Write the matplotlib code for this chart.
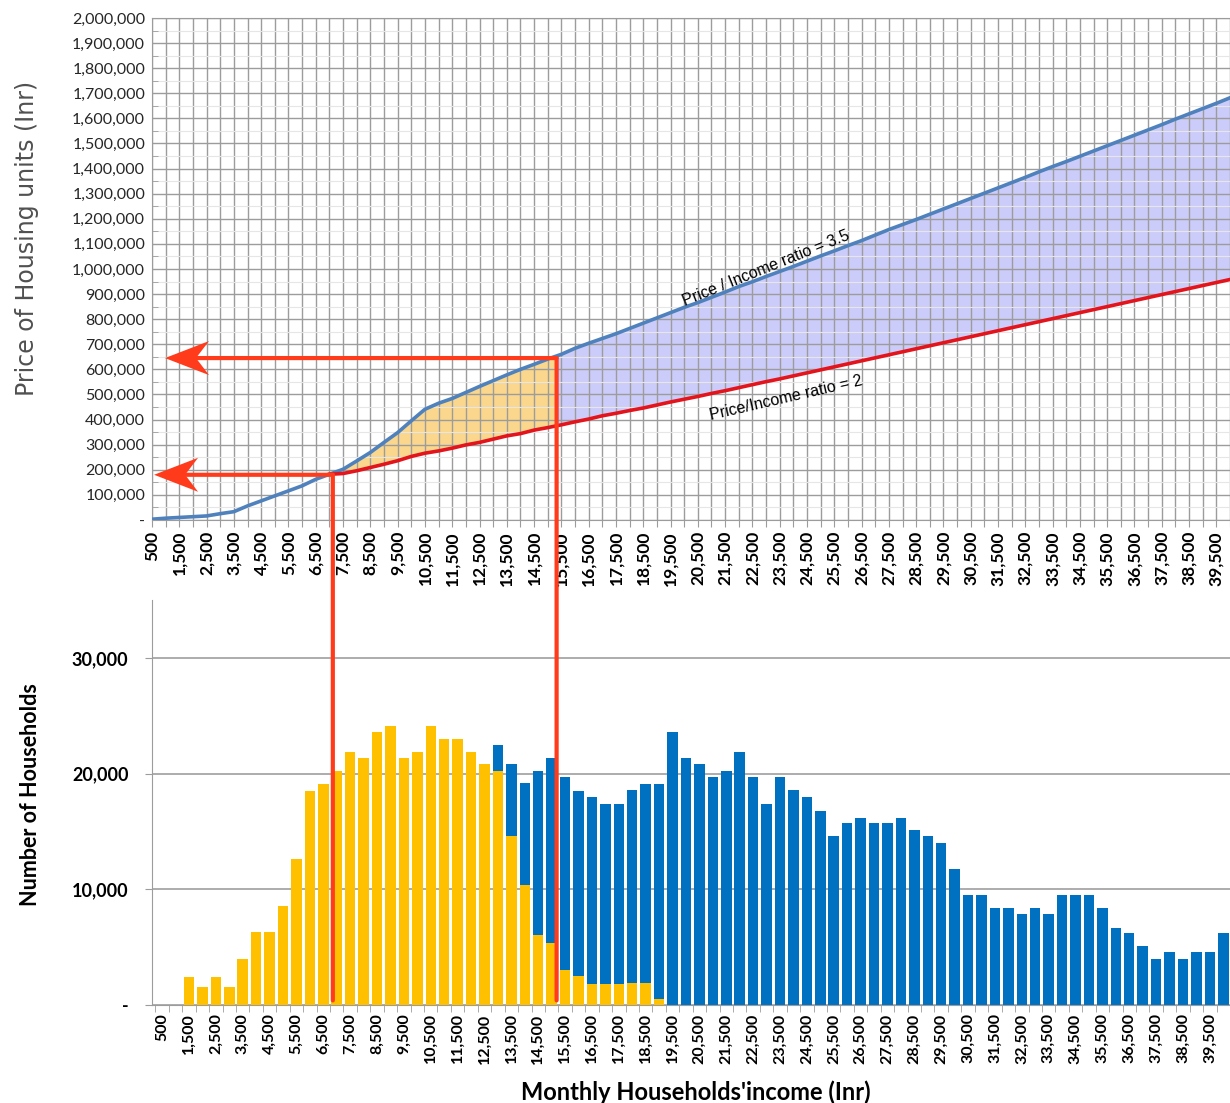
import numpy as np
import matplotlib
matplotlib.use("Agg")
import matplotlib.pyplot as plt
import matplotlib.ticker as mticker
import matplotlib.transforms as mtransforms
from matplotlib.patches import ConnectionPatch, Rectangle, Polygon

# monthly household income categories (Inr)
income = list(range(500, 40001, 500))

# price of housing at price/income ratio 3.5 (blue line)
price_35 = [3000, 7000, 10000, 13000, 16000, 25000, 33000, 56000, 76000, 96000,
            116000, 136000, 162000, 182000, 202000, 235000, 269000, 309000, 348000, 395000,
            441000, 465000, 484000, 508000, 532000, 555000, 578000, 600000, 620000, 641000,
            660000, 684000, 704000, 723000, 742000, 763000, 784000, 805000, 826000, 847000,
            866000, 887000, 908000, 930000, 949000, 970000, 990000, 1010000, 1031000, 1052000,
            1072000, 1093000, 1113000, 1135000, 1157000, 1177000, 1197000, 1218000, 1239000, 1260000,
            1281000, 1302000, 1323000, 1344000, 1365000, 1387000, 1408000, 1428000, 1449000, 1470000,
            1491000, 1512000, 1533000, 1554000, 1575000, 1597000, 1618000, 1639000, 1660000, 1682000]

# price of housing at price/income ratio 2 (red line), starts at 7,000
price_2 = [np.nan] * 13 + [
    182000, 185000, 196000, 209000, 222000, 236000, 253000, 266000, 275000, 286000,
    299000, 309000, 322000, 335000, 344000, 358000, 368000, 379000, 391000, 402000,
    415000, 425000, 436000, 446000, 458000, 470000, 481000, 492000, 504000, 515000,
    527000, 539000, 551000, 562000, 574000, 586000, 598000, 610000, 622000, 634000,
    646000, 658000, 670000, 682000, 694000, 706000, 718000, 730000, 742000, 754000,
    766000, 778000, 790000, 802000, 814000, 826000, 838000, 850000, 862000, 874000,
    886000, 898000, 910000, 922000, 934000, 946000, 958000]

# number of households per income class
households = [0, 0, 2400, 1600, 2400, 1600, 4000, 6300, 6300, 8600,
              12600, 18500, 19100, 20200, 21900, 21400, 23600, 24100, 21400, 21900,
              24100, 23000, 23000, 21900, 20800, 22500, 20800, 19200, 20200, 21400,
              19700, 18500, 18000, 17400, 17400, 18600, 19100, 19100, 23600, 21400,
              20800, 19700, 20200, 21900, 19700, 17400, 19700, 18600, 18000, 16800,
              14600, 15700, 16200, 15700, 15700, 16200, 15100, 14600, 14000, 11800,
              9500, 9500, 8400, 8400, 7900, 8400, 7900, 9500, 9500, 9500,
              8400, 6700, 6200, 5100, 4000, 4600, 4000, 4600, 4600, 6200]

# households that can afford (yellow part)
afford = [0, 0, 2400, 1600, 2400, 1600, 4000, 6300, 6300, 8600,
          12600, 18500, 19100, 20200, 21900, 21400, 23600, 24100, 21400, 21900,
          24100, 23000, 23000, 21900, 20800, 20200, 14600, 10400, 6100, 5400,
          3000, 2500, 1800, 1800, 1800, 1900, 1900, 500] + [0] * 42

# the two thresholds marked with red arrows (category position, price level, arrow tip)
mark_pos = [13.25, 29.65]
mark_level = [180000, 645000]
mark_tip = [0.15, 0.95]

x = np.arange(len(income))
p35 = np.array(price_35, dtype=float)
p2 = np.array(price_2, dtype=float)

fig = plt.figure(figsize=(12.3, 11.03), dpi=100)
ax1 = fig.add_axes([0.1236, 0.5286, 0.8764, 0.4551])
ax2 = fig.add_axes([0.1236, 0.0888, 0.8764, 0.367])

grid_c = "#9C9C9C"
arrow_c = "#FF3B1C"

# ---- top chart: price lines
ax1.set_xlim(0, len(income) - 1)
ax1.set_ylim(0, 2000000)
ax1.set_axisbelow(True)

m = x >= 13
ax1.fill_between(x[m], p2[m], p35[m], color="#CCCCFA", lw=0, zorder=0.3)
org = ax1.fill_between(x[m], p2[m], p35[m], color="#FAD78C", lw=0, zorder=0.35)
org.set_clip_path(Rectangle((0, 0), mark_pos[1], 2000000, transform=ax1.transData))

ax1.plot(x, p35, color="#4F81BD", lw=2.6, zorder=3)
ax1.plot(x, p2, color="#E3141B", lw=2.6, zorder=3)

ax1.set_xticks(x)
ax1.set_xticklabels([f"{v:,}" if i % 2 == 0 else "" for i, v in enumerate(income)],
                    rotation=90, fontsize=12.5, fontweight="bold", family="Lato")
ax1.set_yticks(np.arange(0, 2000001, 100000))
ax1.yaxis.set_major_formatter(mticker.FuncFormatter(lambda v, p: "-" if v == 0 else f"{int(v):,}"))
ax1.yaxis.set_minor_locator(mticker.MultipleLocator(50000))
for lab in ax1.get_yticklabels():
    lab.set_family("Lato")
    lab.set_fontsize(11.5)
    lab.set_color("#262626")
ax1.tick_params(axis="x", length=5, color=grid_c, pad=3)
ax1.tick_params(axis="y", which="major", length=0, pad=5)
ax1.tick_params(axis="y", which="minor", length=4, direction="in", color=grid_c)
ax1.grid(axis="x", color=grid_c, lw=1)
ax1.grid(axis="y", which="major", color=grid_c, lw=1)
ax1.grid(axis="y", which="minor", color="#E6E6E6", lw=0.8)
for s in ax1.spines.values():
    s.set_color(grid_c)
ax1.spines["right"].set_visible(False)

ax1.set_ylabel("Price of Housing units (Inr)", fontsize=17, color="#505050")
ax1.yaxis.set_label_coords(-0.105, 0.56)

ax1.text(45, 1004000, "Price / Income ratio = 3.5", rotation=22, ha="center", va="center",
         fontsize=11.5, family="Liberation Sans", rotation_mode="anchor", zorder=4)
ax1.text(46.5, 486000, "Price/Income ratio = 2", rotation=13, ha="center", va="center",
         fontsize=11.5, family="Liberation Sans", rotation_mode="anchor", zorder=4)

# ---- bottom chart: households
ax2.bar(x, households, width=0.78, color="#0070C0", zorder=2)
ax2.bar(x, afford, width=0.78, color="#FFC000", zorder=3)
ax2.set_xlim(-0.75, 79.45)
ax2.set_ylim(0, 35000)
ax2.set_yticks([0, 10000, 20000, 30000])
ax2.set_yticklabels(["-", "10,000", "20,000", "30,000"], fontsize=13, fontweight="bold", family="Lato")
ax2.set_xticks(x[::2])
ax2.set_xticklabels([f"{v:,}" for v in income[::2]], rotation=90, fontsize=11.5,
                    fontweight="bold", family="Lato")
ax2.set_xticks(np.append(x - 0.5, x[-1] + 0.5), minor=True)
ax2.tick_params(axis="x", which="major", length=0, pad=6)
ax2.tick_params(axis="x", which="minor", length=5, color=grid_c)
ax2.tick_params(axis="y", length=5, color=grid_c, pad=12)
ax2.grid(axis="y", color="#A6A6A6", lw=1.3, zorder=1)
ax2.set_axisbelow(True)
for s in ["top", "right"]:
    ax2.spines[s].set_visible(False)
for s in ["left", "bottom"]:
    ax2.spines[s].set_color(grid_c)

ax2.set_ylabel("Number of Households", fontsize=15.5, fontweight="bold", family="Lato")
ax2.yaxis.set_label_coords(-0.103, 0.52)
ax2.set_xlabel("Monthly Households'income (Inr)", fontsize=17, fontweight="bold", family="Lato")
ax2.xaxis.set_label_coords(0.504, -0.185)

# ---- red arrows and connecting lines
both = mtransforms.blended_transform_factory(ax1.transData, ax2.transData)
head = np.array([[0, 0], [0.44, 0.17], [0.31, 0], [0.44, -0.17]])  # stealth head, inches
for px, lev, tip in zip(mark_pos, mark_level, mark_tip):
    ax1.annotate("", xy=(tip + 1.5, lev), xytext=(px, lev), annotation_clip=False,
                 arrowprops=dict(arrowstyle="-", lw=3, color=arrow_c,
                                 shrinkA=0, shrinkB=0), zorder=5)
    at_tip = fig.dpi_scale_trans + mtransforms.ScaledTranslation(tip, lev, ax1.transData)
    ax1.add_patch(Polygon(head, closed=True, transform=at_tip, color=arrow_c,
                          lw=0, zorder=5, clip_on=False))
    con = ConnectionPatch(xyA=(px, lev), coordsA=ax1.transData, xyB=(px, 400), coordsB=both,
                          color=arrow_c, lw=3, zorder=6)
    fig.add_artist(con)

fig.savefig("out.png", dpi=100)
